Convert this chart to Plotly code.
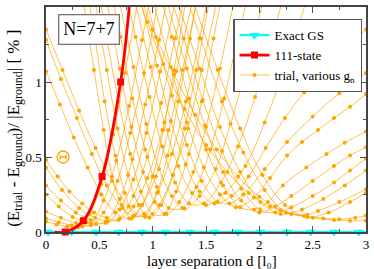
import plotly.graph_objects as go

# ---------------- data ----------------
gs_d = [0.02, 0.24, 0.47, 0.68, 0.90, 1.12, 1.35, 1.58, 1.80, 2.01, 2.26, 2.48, 2.70, 2.93]
gs_y = [0.0] * len(gs_d)
gs_line_d = [0.0, 3.0]
gs_line_y = [0.0, 0.0]

s111_d = [0.18, 0.35, 0.526, 0.70]
s111_y = [0.0, 0.075, 0.37, 1.0]
s111_line_d = [0.08, 0.18, 0.35, 0.526, 0.70, 0.78]
s111_line_y = [0.0, 0.0, 0.075, 0.37, 1.0, 1.5]

trial_d = [
    [0, 0.1, 0.2, 0.3, 0.41, 0.52, 0.63, 0.74, 0.96],
    [0, 0.12, 0.24, 0.34, 0.42, 0.54, 0.66, 0.78, 0.90, 1.02],
    [0, 0.14, 0.28, 0.42, 0.54, 0.67, 0.79, 0.92, 1.16],
    [0, 0.12, 0.25, 0.38, 0.47, 0.56, 0.69, 0.81, 0.93, 1.06, 1.18],
    [0, 0.14, 0.28, 0.42, 0.56, 0.69, 0.82, 0.94, 1.07, 1.33],
    [0, 0.15, 0.31, 0.46, 0.58, 0.69, 0.82, 0.95, 1.08, 1.21, 1.35],
    [0, 0.11, 0.22, 0.34, 0.45, 0.57, 0.68, 0.82, 0.95, 1.09, 1.22, 1.5],
    [0, 0.13, 0.26, 0.39, 0.52, 0.65, 0.78, 0.9, 1.03, 1.15, 1.28, 1.52],
    [0, 0.14, 0.29, 0.43, 0.57, 0.72, 0.82, 0.92, 1.05, 1.18, 1.31, 1.44, 1.56],
    [0, 0.155, 0.31, 0.465, 0.62, 0.775, 0.93, 1.06, 1.19, 1.33, 1.46, 1.72],
    [0.27, 0.45, 0.54, 0.62, 0.71, 0.80, 0.9, 1.0, 1.1, 1.2, 1.4],
    [0.36, 0.46, 0.55, 0.65, 0.74, 0.83, 0.93, 1.04, 1.14, 1.24, 1.35, 1.45],
    [0.37, 0.57, 0.67, 0.77, 0.87, 0.97, 1.08, 1.19, 1.3, 1.41, 1.63],
    [0.47, 0.57, 0.68, 0.79, 0.89, 1.0, 1.11, 1.22, 1.34, 1.46, 1.57, 1.69],
    [0.47, 0.69, 0.8, 0.91, 1.02, 1.13, 1.25, 1.38, 1.5, 1.63, 1.87],
    [0.58, 0.70, 0.81, 0.93, 1.04, 1.15, 1.28, 1.41, 1.54, 1.67, 1.80, 1.94],
    [0.58, 0.82, 0.94, 1.06, 1.18, 1.3, 1.44, 1.59, 1.73, 1.88, 2.16],
    [0.72, 0.84, 0.97, 1.09, 1.21, 1.34, 1.48, 1.64, 1.80, 1.96, 2.12, 2.28],
    [0.72, 0.98, 1.11, 1.24, 1.37, 1.5, 1.68, 1.87, 2.05, 2.24, 2.6],
    [0.76, 1.04, 1.17, 1.31, 1.44, 1.58, 1.74, 1.9, 2.06, 2.24, 2.42, 2.6, 2.8, 3.0],
    [0.89, 1.03, 1.18, 1.32, 1.46, 1.61, 1.72, 1.85, 2.05, 2.26, 2.5, 2.75, 3.0],
    [0.87, 1.17, 1.32, 1.48, 1.63, 1.78, 1.95, 2.1, 2.26, 2.4, 2.55, 2.7, 2.85, 3.0],
    [1.02, 1.18, 1.34, 1.50, 1.66, 1.82, 1.95, 2.08, 2.22, 2.44, 2.63, 2.8, 3.0],
    [0.98, 1.32, 1.49, 1.66, 1.83, 2.0, 2.15, 2.3, 2.5, 2.7, 2.85, 3.0],
    [1.11, 1.29, 1.47, 1.65, 1.83, 2.01, 2.15, 2.3, 2.5, 2.7, 2.85, 3.0],
    [1.06, 1.44, 1.63, 1.82, 2.01, 2.2, 2.4, 2.6, 2.8, 3.0],
    [1.25, 1.45, 1.65, 1.85, 2.05, 2.25, 2.45, 2.55, 2.75, 3.0],
    [1.19, 1.61, 1.82, 2.03, 2.24, 2.45, 2.65, 2.85, 3.0],
    [0.9, 1.0, 1.2, 1.4, 1.6, 1.8, 2.0, 2.2, 2.42, 2.6, 2.75, 2.9, 3.0],
    [0.85, 0.95, 1.1, 1.3, 1.5, 1.7, 1.9, 2.1, 2.3, 2.5, 2.7, 2.85, 3.0],
]
trial_y = [
    [0.07, 0.05, 0.036, 0.03, 0.12, 0.32, 0.65, 1.06, 1.94],
    [0.09, 0.065, 0.045, 0.036, 0.057, 0.21, 0.475, 0.84, 1.28, 1.72],
    [0.135, 0.095, 0.06, 0.045, 0.13, 0.34, 0.66, 1.06, 1.94],
    [0.25, 0.17, 0.1, 0.065, 0.052, 0.07, 0.22, 0.485, 0.85, 1.28, 1.72],
    [0.31, 0.21, 0.13, 0.08, 0.06, 0.15, 0.35, 0.66, 1.07, 1.93],
    [0.43, 0.28, 0.16, 0.095, 0.072, 0.09, 0.24, 0.5, 0.86, 1.29, 1.71],
    [0.48, 0.37, 0.27, 0.19, 0.13, 0.095, 0.08, 0.17, 0.36, 0.68, 1.07, 1.93],
    [1.07, 0.85, 0.63, 0.43, 0.25, 0.13, 0.09, 0.18, 0.37, 0.68, 1.08, 1.92],
    [1.28, 1.02, 0.76, 0.52, 0.31, 0.16, 0.105, 0.12, 0.27, 0.52, 0.87, 1.29, 1.71],
    [1.35, 1.08, 0.81, 0.56, 0.34, 0.17, 0.10, 0.18, 0.38, 0.69, 1.08, 1.92],
    [1.92, 1.08, 0.68, 0.37, 0.18, 0.09, 0.18, 0.37, 0.68, 1.08, 1.92],
    [1.71, 1.29, 0.87, 0.51, 0.26, 0.11, 0.11, 0.26, 0.51, 0.87, 1.29, 1.71],
    [1.92, 1.08, 0.69, 0.38, 0.18, 0.095, 0.18, 0.38, 0.69, 1.08, 1.92],
    [1.71, 1.29, 0.87, 0.52, 0.27, 0.12, 0.12, 0.27, 0.52, 0.87, 1.29, 1.71],
    [1.91, 1.09, 0.70, 0.40, 0.20, 0.12, 0.20, 0.40, 0.70, 1.09, 1.91],
    [1.70, 1.30, 0.89, 0.55, 0.30, 0.16, 0.16, 0.30, 0.55, 0.89, 1.30, 1.70],
    [1.90, 1.10, 0.72, 0.42, 0.24, 0.155, 0.24, 0.42, 0.72, 1.10, 1.90],
    [1.70, 1.30, 0.90, 0.57, 0.33, 0.19, 0.19, 0.33, 0.57, 0.90, 1.30, 1.70],
    [1.90, 1.10, 0.73, 0.44, 0.26, 0.18, 0.26, 0.44, 0.73, 1.10, 1.90],
    [1.89, 1.11, 0.74, 0.45, 0.27, 0.19, 0.24, 0.37, 0.56, 0.76, 0.93, 1.07, 1.22, 1.35],
    [1.70, 1.30, 0.91, 0.58, 0.34, 0.20, 0.19, 0.25, 0.42, 0.60, 0.77, 0.925, 1.06],
    [1.90, 1.10, 0.73, 0.43, 0.25, 0.165, 0.23, 0.36, 0.51, 0.60, 0.68, 0.76, 0.835, 0.92],
    [1.70, 1.30, 0.89, 0.55, 0.31, 0.165, 0.15, 0.20, 0.31, 0.43, 0.52, 0.595, 0.67],
    [1.91, 1.09, 0.71, 0.40, 0.21, 0.13, 0.17, 0.24, 0.34, 0.44, 0.51, 0.565],
    [1.71, 1.29, 0.88, 0.54, 0.29, 0.146, 0.13, 0.165, 0.24, 0.33, 0.41, 0.49],
    [1.91, 1.09, 0.70, 0.40, 0.20, 0.12, 0.15, 0.22, 0.31, 0.41],
    [1.71, 1.29, 0.87, 0.53, 0.28, 0.13, 0.115, 0.14, 0.20, 0.285],
    [1.92, 1.08, 0.69, 0.38, 0.18, 0.10, 0.13, 0.20, 0.26],
    [1.55, 1.35, 1.05, 0.78, 0.55, 0.37, 0.235, 0.147, 0.107, 0.09, 0.085, 0.095, 0.11],
    [1.6, 1.4, 1.12, 0.82, 0.58, 0.4, 0.26, 0.17, 0.12, 0.095, 0.08, 0.075, 0.075],
]

err_d = [0.16]
err_y = [0.5]
err_dx = [0.028]

x_ticks = [0, 0.5, 1, 1.5, 2, 2.5, 3]
x_ticklabels = ["0", "0.5", "1", "1.5", "2", "2.5", "3"]
y_ticks = [0, 0.5, 1, 1.5]
y_ticklabels = ["0", "0.5", "1", "1.5"]

# ---------------- figure ----------------
SERIF = "Liberation Serif"
ORANGE = "#FFA500"
ORANGE_LINE = "rgba(255,165,0,0.7)"
CYAN = "#00FFFF"
RED = "#FF0000"

fig = go.Figure()

for i, (dx, dy) in enumerate(zip(trial_d, trial_y)):
    fig.add_trace(go.Scatter(
        x=dx, y=dy, mode="lines+markers",
        line=dict(color=ORANGE_LINE, width=1.0, shape="spline", smoothing=1.0),
        marker=dict(color=ORANGE, size=4, symbol="circle"),
        name="trial, various g<sub>n</sub>", legendgroup="trial",
        showlegend=(i == 0), legendrank=3, hoverinfo="skip",
    ))

# circled error marker
fig.add_trace(go.Scatter(
    x=err_d, y=err_y, mode="markers",
    marker=dict(symbol="circle-open", size=12, color=ORANGE, line=dict(width=1.3, color=ORANGE)),
    showlegend=False, hoverinfo="skip",
))
fig.add_trace(go.Scatter(
    x=err_d, y=err_y, mode="markers",
    marker=dict(size=1, color=ORANGE),
    error_x=dict(type="data", array=err_dx, color=ORANGE, thickness=1.3, width=2.5),
    showlegend=False, hoverinfo="skip",
))

# exact ground state
fig.add_trace(go.Scatter(
    x=gs_line_d, y=gs_line_y, mode="lines",
    line=dict(color=CYAN, width=2.2), cliponaxis=False,
    showlegend=False, hoverinfo="skip",
))
fig.add_trace(go.Scatter(
    x=gs_d, y=gs_y, mode="markers",
    marker=dict(symbol="triangle-down", size=9, color=CYAN),
    cliponaxis=False, showlegend=False, hoverinfo="skip",
))
fig.add_trace(go.Scatter(
    x=[None], y=[None], mode="lines+markers",
    line=dict(color=CYAN, width=2.2),
    marker=dict(symbol="triangle-down", size=9, color=CYAN),
    name="Exact GS", legendrank=1,
))

# 111-state
fig.add_trace(go.Scatter(
    x=s111_line_d, y=s111_line_y, mode="lines",
    line=dict(color=RED, width=2.8, shape="spline", smoothing=1.0),
    showlegend=False, hoverinfo="skip",
))
fig.add_trace(go.Scatter(
    x=s111_d, y=s111_y, mode="markers",
    marker=dict(symbol="square", size=7, color=RED),
    cliponaxis=False, showlegend=False, hoverinfo="skip",
))
fig.add_trace(go.Scatter(
    x=[None], y=[None], mode="lines+markers",
    line=dict(color=RED, width=2.8),
    marker=dict(symbol="square", size=7, color=RED),
    name="111-state", legendrank=2,
))

axis_common = dict(
    showline=True, linecolor="#444", linewidth=1.5, mirror="ticks",
    ticks="inside", ticklen=6, tickwidth=1.2, tickcolor="#555",
    showgrid=False, zeroline=False,
    tickfont=dict(family=SERIF, size=13, color="black"),
    minor=dict(ticks="inside", ticklen=3, tickwidth=1, tickcolor="#555", showgrid=False),
)

fig.update_xaxes(range=[0, 3], tickvals=x_ticks, ticktext=x_ticklabels,
                 minor_dtick=0.25, **axis_common)
fig.update_yaxes(range=[0, 1.5], tickvals=y_ticks, ticktext=y_ticklabels,
                 minor_dtick=0.25, **axis_common)

fig.update_layout(
    width=374, height=269,
    margin=dict(l=46, r=5, t=6, b=37),
    paper_bgcolor="white", plot_bgcolor="white",
    font=dict(family=SERIF, color="black"),
    showlegend=True,
    legend=dict(
        x=0.585, y=0.947, xanchor="left", yanchor="top",
        bgcolor="white", bordercolor="#555", borderwidth=1.3,
        font=dict(family=SERIF, size=13, color="black"),
        itemwidth=30, tracegroupgap=0,
    ),
    annotations=[
        dict(text="N=7+7", x=0.133, y=0.898, xref="paper", yref="paper",
             xanchor="center", yanchor="middle", showarrow=False,
             font=dict(family=SERIF, size=18, color="black"),
             bordercolor="#777", borderwidth=1.3, borderpad=4, bgcolor="white"),
        dict(text="layer separation d [l\u2080]", x=0.519, y=0.0,
             yshift=-19, xref="paper", yref="paper", xanchor="center", yanchor="top",
             showarrow=False, font=dict(family=SERIF, size=15, color="black")),
        dict(text="(E<sub>trial</sub> - E<sub>ground</sub>)/ |E<sub>ground</sub>| [ % ]",
             x=-0.099, y=0.46, xref="paper", yref="paper", textangle=-90,
             xanchor="center", yanchor="middle", showarrow=False,
             font=dict(family=SERIF, size=17, color="black")),
    ],
)

fig.write_html("out.html", config={"displayModeBar": False},
               post_script="document.body.style.margin='0';")
